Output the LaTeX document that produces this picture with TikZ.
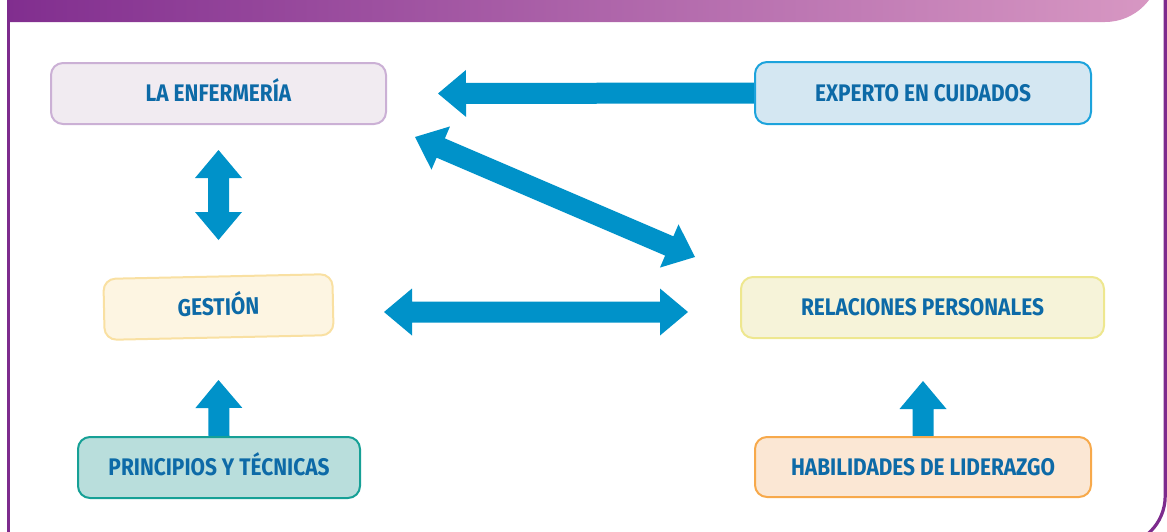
\documentclass[tikz,border=0pt]{standalone}
\usepackage{fontspec}
\newfontfamily\boxfont[FakeStretch=0.87]{Fira Sans}
\usetikzlibrary{calc,backgrounds}

\definecolor{framepurple}{HTML}{7D2B8D}
\definecolor{barleft}{HTML}{812E8F}
\definecolor{barright}{HTML}{D898C3}
\definecolor{arrowblue}{HTML}{0092C9}
\definecolor{labelblue}{HTML}{0D6AA7}

\tikzset{
  box/.style={rounded corners=12pt, line width=2pt, inner sep=0pt,
    text height=16.5pt, text depth=0pt,
    text=labelblue, font=\boxfont\bfseries\fontsize{24}{28}\selectfont},
  lilacbox/.style={box, fill={rgb,255:red,241;green,235;blue,241}, draw={rgb,255:red,203;green,176;blue,213}},
  skybox/.style={box, fill={rgb,255:red,212;green,231;blue,242}, draw={rgb,255:red,28;green,163;blue,220}},
  creambox/.style={box, fill={rgb,255:red,253;green,245;blue,226}, draw={rgb,255:red,249;green,224;blue,162}},
  lemonbox/.style={box, fill={rgb,255:red,246;green,243;blue,217}, draw={rgb,255:red,238;green,231;blue,143}},
  tealbox/.style={box, fill={rgb,255:red,185;green,222;blue,220}, draw={rgb,255:red,22;green,160;blue,150}},
  peachbox/.style={box, fill={rgb,255:red,251;green,231;blue,212}, draw={rgb,255:red,247;green,169;blue,75}},
  framestroke/.style={draw=framepurple, line width=3.2pt},
}

% thick block arrow: tail at #1, tip at #2
\newcommand\blockarrow[2]{%
  \fill[arrowblue] let \p1=(#1), \p2=(#2),
      \n1={atan2(\y2-\y1,\x2-\x1)}, \n2={veclen(\x2-\x1,\y2-\y1)-28} in
    ($(\p1)+({\n1+90}:10.5pt)$)
    -- ($(\p1)+({\n1}:{\n2*1pt})+({\n1+90}:10.5pt)$)
    -- ($(\p1)+({\n1}:{\n2*1pt})+({\n1+90}:23.5pt)$)
    -- (\p2)
    -- ($(\p1)+({\n1}:{\n2*1pt})+({\n1-90}:23.5pt)$)
    -- ($(\p1)+({\n1}:{\n2*1pt})+({\n1-90}:10.5pt)$)
    -- ($(\p1)+({\n1-90}:10.5pt)$) -- cycle;}

% thick block arrow with heads at both ends #1 and #2
\newcommand\blockdouble[2]{%
  \fill[arrowblue] let \p1=(#1), \p2=(#2),
      \n1={atan2(\y2-\y1,\x2-\x1)}, \n2={veclen(\x2-\x1,\y2-\y1)-28} in
    (\p1)
    -- ($(\p1)+({\n1}:28pt)+({\n1+90}:23.5pt)$)
    -- ($(\p1)+({\n1}:28pt)+({\n1+90}:10.5pt)$)
    -- ($(\p1)+({\n1}:{\n2*1pt})+({\n1+90}:10.5pt)$)
    -- ($(\p1)+({\n1}:{\n2*1pt})+({\n1+90}:23.5pt)$)
    -- (\p2)
    -- ($(\p1)+({\n1}:{\n2*1pt})+({\n1-90}:23.5pt)$)
    -- ($(\p1)+({\n1}:{\n2*1pt})+({\n1-90}:10.5pt)$)
    -- ($(\p1)+({\n1}:28pt)+({\n1-90}:10.5pt)$)
    -- ($(\p1)+({\n1}:28pt)+({\n1-90}:23.5pt)$) -- cycle;}

\begin{document}
\begin{tikzpicture}[x=1pt,y=1pt]
  \useasboundingbox (0,0) rectangle (1167,-531);
  \clip (0,0) rectangle (1167,-531);

  % page frame and title bar
  \shade[left color=barleft, right color=barright]
    (7,20) -- (7,-22) -- (1105,-22) arc[start angle=-90, end angle=0, radius=55pt]
    -- (1160,20) -- cycle;
  \draw[framestroke] (8.6,0) -- (8.6,-540);
  \draw[framestroke, rounded corners=50pt] (1165.2,0) -- (1165.2,-546) -- (1000,-546);

  % concept boxes
  \node[lilacbox, minimum width=335pt, minimum height=61pt] (enf) at (218.5,-93.5) {LA ENFERMERÍA};
  \node[skybox, minimum width=336pt, minimum height=62pt] (exp) at (923,-93) {EXPERTO EN CUIDADOS};
  \node[creambox, minimum width=229pt, minimum height=61pt, rotate=1.2] (ges) at (218.5,-307) {GESTIÓN};
  \node[lemonbox, minimum width=363pt, minimum height=61pt] (rel) at (922.5,-307.5) {RELACIONES PERSONALES};
  \node[tealbox, minimum width=282pt, minimum height=61pt] (pri) at (219,-467.5) {PRINCIPIOS Y TÉCNICAS};
  \node[peachbox, minimum width=336pt, minimum height=60pt] (hab) at (923,-467) {HABILIDADES DE LIDERAZGO};

  % arrow end points
  \coordinate (expTip) at ([xshift=51pt]enf.east);
  \coordinate (enfDown) at ([yshift=-25pt]enf.south);
  \coordinate (gesUp) at (218.5,-240);
  \coordinate (gesRight) at (384,-312);
  \coordinate (relLeft) at (688,-312);
  \coordinate (diagTop) at (415,-137);
  \coordinate (diagBottom) at (695,-257);
  \coordinate (priTip) at (218.5,-380);
  \coordinate (habTip) at (923,-381);

  \begin{scope}[on background layer]
    \blockarrow{exp.west}{expTip}
    \blockdouble{enfDown}{gesUp}
    \blockdouble{gesRight}{relLeft}
    \blockdouble{diagTop}{diagBottom}
    \blockarrow{pri.north}{priTip}
    \blockarrow{hab.north}{habTip}
  \end{scope}
\end{tikzpicture}
\end{document}
